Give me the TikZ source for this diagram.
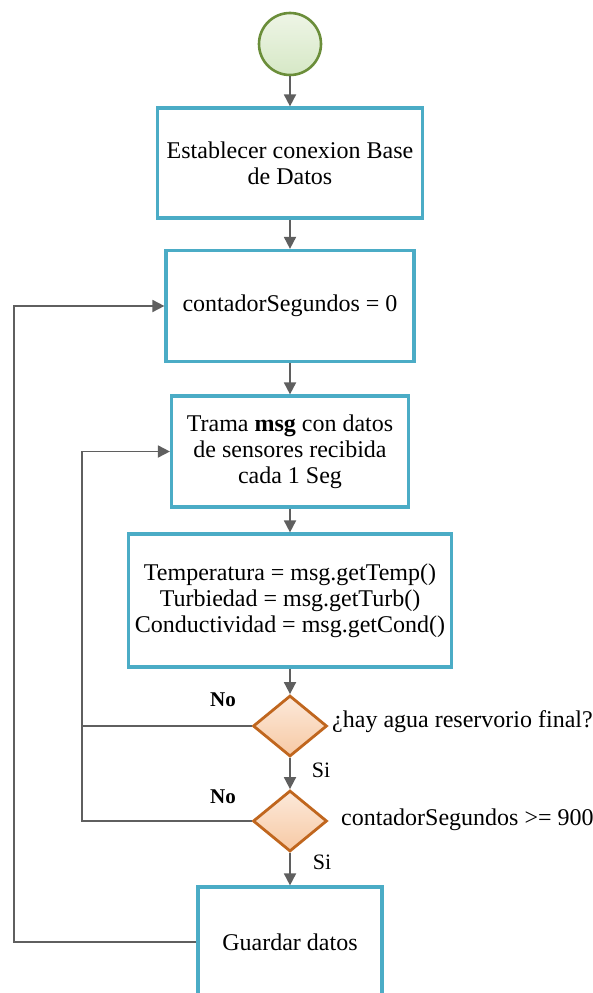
\documentclass[tikz,border=0pt]{standalone}
\usepackage{fontspec}
\setmainfont{Liberation Serif}
\usetikzlibrary{arrows.meta,shapes.geometric}
\definecolor{boxc}{HTML}{4BACC6}
\definecolor{linec}{HTML}{5F5F5F}
\definecolor{dstroke}{HTML}{C0661E}
\definecolor{dtop}{HTML}{FCE9DA}
\definecolor{dbot}{HTML}{F7C9A4}
\definecolor{cstroke}{HTML}{6B8E3A}
\definecolor{ctop}{HTML}{EEF5E6}
\definecolor{cbot}{HTML}{D6E8C6}
\tikzset{
  proc/.style={draw=boxc, line width=3.2pt, fill=white, align=center, inner sep=0pt,
    font=\fontsize{24}{26}\selectfont},
  decis/.style={diamond, draw=dstroke, line width=2.8pt, top color=dtop, bottom color=dbot,
    minimum width=74pt, minimum height=61pt, inner sep=0pt, aspect=1.2},
  flow/.style={draw=linec, line width=1.8pt, -{Triangle[length=12pt,width=12pt]}},
  plain/.style={draw=linec, line width=1.8pt},
  lbl/.style={font=\fontsize{24}{26}\selectfont, inner sep=0pt},
}
\begin{document}
\begin{tikzpicture}[x=1pt,y=-1pt]
\useasboundingbox (0,0) rectangle (592,993);
\clip (0,0) rectangle (592,993);
\node[circle, draw=cstroke, line width=2.6pt, top color=ctop, bottom color=cbot,
  minimum size=62pt, inner sep=0pt] (start) at (290,44) {};
\node[proc, minimum width=265pt, minimum height=110pt] (b1) at (290,163)
  {Establecer conexion Base\\de Datos};
\node[proc, minimum width=248pt, minimum height=111pt] (b2) at (290,306)
  {contadorSegundos = 0};
\node[proc, minimum width=237pt, minimum height=111pt] (b3) at (290,451.5)
  {Trama \textbf{msg} con datos\\de sensores recibida\\cada 1 Seg};
\node[proc, minimum width=323pt, minimum height=133pt] (b4) at (290,600.5)
  {Temperatura = msg.getTemp()\\Turbiedad = msg.getTurb()\\Conductividad = msg.getCond()};
\node[decis] (d1) at (290,726) {};
\node[decis] (d2) at (290,821) {};
\node[proc, minimum width=184pt, minimum height=110pt] (b5) at (290,942)
  {Guardar datos};
\node[lbl, anchor=west] (t1) at (332,722) {¿hay agua reservorio final?};
\node[lbl, anchor=west] (t2) at (341,820) {contadorSegundos >= 900};
\node[lbl, font=\bfseries\fontsize{21}{24}\selectfont] (no1) at (223,700) {No};
\node[lbl, font=\bfseries\fontsize{21}{24}\selectfont] (no2) at (223,797) {No};
\node[lbl, font=\fontsize{22}{24}\selectfont] (si1) at (321,770) {Si};
\node[lbl, font=\fontsize{22}{24}\selectfont] (si2) at (322,862) {Si};
\coordinate (outer) at (14,942);
\coordinate (inner) at (82,726);
\draw[flow] (start) -- (b1);
\draw[flow] (b1) -- (b2);
\draw[flow] (b2) -- (b3);
\draw[flow] (b3) -- (b4);
\draw[flow] (b4) -- (d1);
\draw[flow] (d1) -- (d2);
\draw[flow] (d2) -- (b5);
\draw[flow] (b5.west) -- (outer) |- (b2.west);
\draw[flow] (d1.west) -- (inner) |- (b3.west);
\draw[plain] (d2.west) -| (inner);
\end{tikzpicture}
\end{document}
